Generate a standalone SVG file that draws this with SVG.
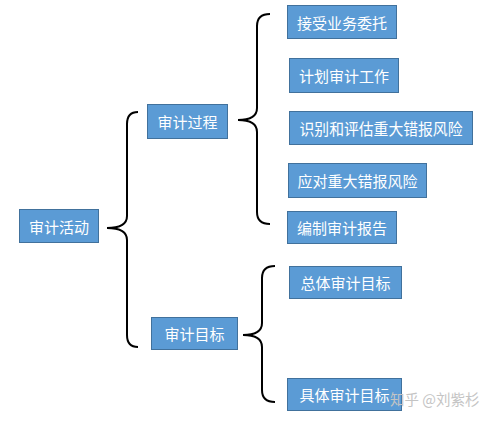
<svg xmlns="http://www.w3.org/2000/svg" width="488" height="421" viewBox="0 0 488 421">
<style>
.box{fill:#5B9BD5;stroke:#41719C;stroke-width:1}
.t{fill:#FFFFFF;font-family:"Microsoft YaHei","Noto Sans CJK SC",sans-serif;font-size:15px;text-anchor:middle;dominant-baseline:central}
.br{fill:none;stroke:#000;stroke-width:2}
.wm{fill:#C4C4C4;font-family:"Noto Sans CJK SC",sans-serif;font-size:14.5px}
</style>
<rect width="488" height="421" fill="#FFFFFF"/>
<g id="connectors">
<path class="br" d="M138,112 Q127,112 127,124 L127,216 Q127,228 107,228 Q127,228 127,240 L127,335 Q127,347 138,347"/>
<path class="br" d="M270,14 Q257,14 257,26 L257,108 Q257,120 238,120 Q257,120 257,132 L257,212 Q257,224 270,224"/>
<path class="br" d="M275,266 Q262,266 262,278 L262,323 Q262,335 243,335 Q262,335 262,347 L262,390 Q262,402 275,402"/>
</g>
<g id="n-audit-activity"><rect class="box" x="19.5" y="209.5" width="79" height="33"/><text class="t" x="59" y="226">审计活动</text></g>
<g id="n-audit-process"><rect class="box" x="147.5" y="104.5" width="80" height="34"/><text class="t" x="187.5" y="121.5">审计过程</text></g>
<g id="n-audit-goal"><rect class="box" x="151.5" y="317.5" width="86" height="32"/><text class="t" x="194.5" y="333.5">审计目标</text></g>
<g id="n-accept"><rect class="box" x="287.5" y="5.5" width="109" height="33"/><text class="t" x="342" y="22">接受业务委托</text></g>
<g id="n-plan"><rect class="box" x="289.5" y="58.5" width="109" height="34"/><text class="t" x="344" y="75.5">计划审计工作</text></g>
<g id="n-identify"><rect class="box" x="289.5" y="111.5" width="183" height="33"/><text class="t" x="381" y="128" style="font-size:16px" textLength="163" lengthAdjust="spacingAndGlyphs">识别和评估重大错报风险</text></g>
<g id="n-respond"><rect class="box" x="288.5" y="163.5" width="138" height="34"/><text class="t" x="357.5" y="180.5">应对重大错报风险</text></g>
<g id="n-report"><rect class="box" x="287.5" y="211.5" width="109" height="32"/><text class="t" x="342" y="227.5">编制审计报告</text></g>
<g id="n-overall"><rect class="box" x="289.5" y="266.5" width="112" height="32"/><text class="t" x="345.5" y="282.5">总体审计目标</text></g>
<g id="n-specific"><rect class="box" x="287.5" y="378.5" width="114" height="32"/><text class="t" x="344.5" y="394.5">具体审计目标</text></g>
<text class="wm" x="390" y="405">知乎 @刘紫杉</text>
</svg>
